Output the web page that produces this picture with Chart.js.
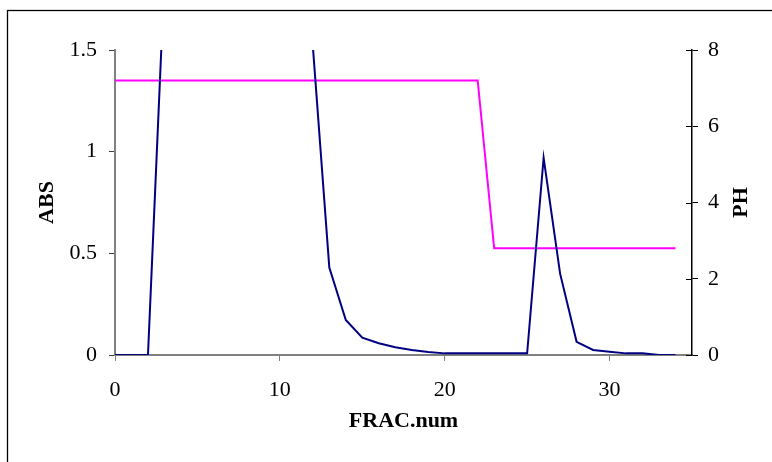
<!DOCTYPE html>
<html>
<head>
<meta charset="utf-8">
<script src="https://cdn.jsdelivr.net/npm/chart.js@4/dist/chart.umd.min.js"></script>
<style>
html,body{margin:0;padding:0;background:#fff;}
#wrap{width:772px;height:462px;position:relative;}
</style>
</head>
<body>
<div id="wrap"><canvas id="c" width="772" height="462"></canvas></div>
<script>
const fracNum = [0,1,2,3,4,5,6,7,8,9,10,11,12,13,14,15,16,17,18,19,20,21,22,23,24,25,26,27,28,29,30,31,32,33,34];
const absValues = [0,0,0,1.86,2.0,2.0,2.0,2.0,2.0,2.0,2.0,2.0,1.52,0.43,0.172,0.085,0.058,0.038,0.025,0.015,0.008,0.008,0.008,0.008,0.008,0.008,0.97,0.40,0.065,0.025,0.016,0.008,0.008,0,0];
const phValues = [7.2,7.2,7.2,7.2,7.2,7.2,7.2,7.2,7.2,7.2,7.2,7.2,7.2,7.2,7.2,7.2,7.2,7.2,7.2,7.2,7.2,7.2,7.2,2.8,2.8,2.8,2.8,2.8,2.8,2.8,2.8,2.8,2.8,2.8,2.8];
const xTicks = [0,10,20,30];
const absTicks = [0,0.5,1,1.5];
const phTicks = [0,2,4,6,8];

const FONT = "'Liberation Serif', 'Times New Roman', serif";

const toPoints = (vals) => fracNum.map((x, i) => ({x: x, y: vals[i]}));

const decor = {
  id: 'decor',
  beforeDraw(chart) {
    const ctx = chart.ctx;
    ctx.save();
    ctx.fillStyle = '#fff';
    ctx.fillRect(0, 0, chart.width, chart.height);
    ctx.strokeStyle = '#000';
    ctx.lineWidth = 1.3;
    ctx.strokeRect(7.5, 10.5, 900, 600);
    ctx.restore();
  },
  afterDraw(chart) {
    const ctx = chart.ctx;
    const s = chart.scales.y1;
    const x0 = chart.chartArea.right;
    ctx.save();
    ctx.strokeStyle = '#000';
    ctx.lineWidth = 1;
    phTicks.forEach(v => {
      const py = Math.round(s.getPixelForValue(v)) + 0.5;
      ctx.beginPath();
      ctx.moveTo(x0 - 6, py);
      ctx.lineTo(x0, py);
      ctx.stroke();
    });
    ctx.fillStyle = '#000';
    ctx.font = "bold 22px " + FONT;
    ctx.textAlign = 'center';
    ctx.textBaseline = 'middle';
    ctx.translate(741, (chart.chartArea.top + chart.chartArea.bottom) / 2);
    ctx.rotate(-Math.PI / 2);
    ctx.fillText('PH', 0, 0);
    ctx.restore();
  }
};

const plainLabel = (v) => String(v);

new Chart(document.getElementById('c'), {
  type: 'line',
  data: {
    datasets: [
      {
        label: 'ABS',
        data: toPoints(absValues),
        yAxisID: 'y',
        borderColor: '#000080',
        borderWidth: 2,
        pointRadius: 0,
        tension: 0,
        fill: false
      },
      {
        label: 'PH',
        data: toPoints(phValues),
        yAxisID: 'y1',
        borderColor: '#FF00FF',
        borderWidth: 2,
        pointRadius: 0,
        tension: 0,
        fill: false
      }
    ]
  },
  options: {
    responsive: false,
    animation: false,
    devicePixelRatio: 1,
    layout: {padding: {top: 50, left: 0, right: 0, bottom: 0}},
    plugins: {legend: {display: false}, tooltip: {enabled: false}},
    scales: {
      x: {
        type: 'linear',
        min: 0,
        max: 35,
        afterBuildTicks(scale) { scale.ticks = xTicks.map(v => ({value: v})); },
        afterFit(scale) { scale.height = 107; },
        border: {display: true, color: '#808080', width: 2},
        grid: {display: true, drawOnChartArea: false, drawTicks: true, tickLength: 6, color: '#808080', lineWidth: 1},
        ticks: {color: '#000', font: {family: FONT, size: 22}, padding: 16, maxRotation: 0, callback: plainLabel},
        title: {display: true, text: 'FRAC.num', color: '#000', font: {family: FONT, size: 22, weight: 'bold'}, padding: {top: 0, bottom: 27}}
      },
      y: {
        position: 'left',
        min: 0,
        max: 1.5,
        afterBuildTicks(scale) { scale.ticks = absTicks.map(v => ({value: v})); },
        afterFit(scale) { scale.width = 115; },
        border: {display: true, color: '#808080', width: 2},
        grid: {display: true, drawOnChartArea: false, drawTicks: true, tickLength: 6, color: '#404040', lineWidth: 1},
        ticks: {color: '#000', font: {family: FONT, size: 22}, padding: 12, callback: plainLabel},
        title: {display: true, text: 'ABS', color: '#000', font: {family: FONT, size: 22, weight: 'bold'}, padding: {top: 34, bottom: 0}}
      },
      y1: {
        position: 'right',
        min: 0,
        max: 8,
        afterBuildTicks(scale) { scale.ticks = phTicks.map(v => ({value: v})); },
        afterFit(scale) { scale.width = 80; },
        border: {display: true, color: '#000', width: 1.5},
        grid: {display: true, drawOnChartArea: false, drawTicks: true, tickLength: 6, color: '#000', lineWidth: 1},
        ticks: {color: '#000', font: {family: FONT, size: 22}, padding: 10, callback: plainLabel}
      }
    }
  },
  plugins: [decor]
});
</script>
</body>
</html>
